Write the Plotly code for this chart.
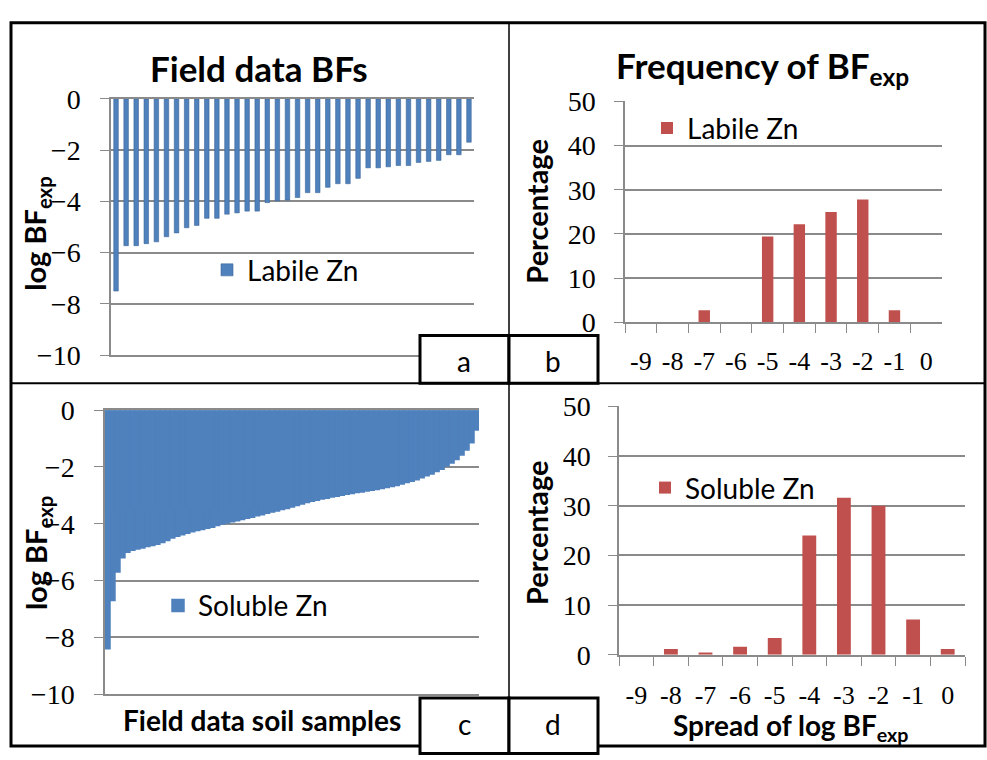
import plotly.graph_objects as go

# ---------------- data ----------------
# Panel a: field data BFs, labile Zn (36 samples, sorted)
labile_bf = [-7.5, -5.73, -5.73, -5.65, -5.58, -5.38, -5.23, -5.03, -4.94, -4.66,
             -4.66, -4.5, -4.45, -4.38, -4.38, -4.05, -3.98, -3.95, -3.85, -3.66,
             -3.66, -3.45, -3.31, -3.31, -3.1, -2.69, -2.69, -2.65, -2.6, -2.6,
             -2.48, -2.44, -2.4, -2.18, -2.18, -1.69]
labile_idx = list(range(1, len(labile_bf) + 1))

# Panel c: field data BFs, soluble Zn (sorted samples)
soluble_bf = [-8.4, -6.7, -5.7, -5.2, -5.0, -4.93, -4.89, -4.85, -4.8, -4.77,
              -4.72, -4.66, -4.59, -4.5, -4.44, -4.39, -4.33, -4.28, -4.24, -4.2,
              -4.16, -4.12, -4.06, -4.01, -3.97, -3.93, -3.89, -3.85, -3.81, -3.77,
              -3.72, -3.68, -3.63, -3.59, -3.55, -3.5, -3.46, -3.41, -3.36, -3.3,
              -3.25, -3.21, -3.17, -3.13, -3.1, -3.06, -3.03, -3.0, -2.96, -2.93,
              -2.9, -2.88, -2.85, -2.82, -2.79, -2.76, -2.72, -2.69, -2.65, -2.6,
              -2.55, -2.5, -2.45, -2.38, -2.31, -2.25, -2.16, -2.08, -1.97, -1.86,
              -1.74, -1.58, -1.4, -1.15, -0.7]
soluble_idx = list(range(1, len(soluble_bf) + 1))

# Panels b, d: frequency of log BFexp
bins = ["-9", "-8", "-7", "-6", "-5", "-4", "-3", "-2", "-1", "0"]
labile_pct = [0, 0, 2.78, 0, 19.44, 22.22, 25.0, 27.78, 2.78, 0]
soluble_pct = [0, 1.16, 0.45, 1.6, 3.4, 24.0, 31.6, 30.0, 7.1, 1.16]

bf_ticks = [0, -2, -4, -6, -8, -10]
pct_ticks = [0, 10, 20, 30, 40, 50]

# ---------------- style ----------------
W, H = 987, 760
BLUE = "#4F81BD"
RED = "#C0504D"
GRID = "#8a8a8a"
SERIF = "Liberation Serif"
SANS = "Lato"


def px(x):
    return x / W


def py(y):
    return 1 - y / H


ytickfont = dict(family=SERIF, size=28, color="black")
xtickfont = dict(family=SERIF, size=26, color="black")

fig = go.Figure()

fig.add_trace(go.Bar(x=labile_idx, y=labile_bf, name="Labile Zn", width=0.45,
                     marker=dict(color=BLUE, line=dict(color="#3d6797", width=0.6)),
                     xaxis="x", yaxis="y", legend="legend"))
fig.add_trace(go.Bar(x=bins, y=labile_pct, name="Labile Zn", width=0.36,
                     marker=dict(color=RED, line=dict(width=0)),
                     xaxis="x2", yaxis="y2", legend="legend2"))
fig.add_trace(go.Bar(x=soluble_idx, y=soluble_bf, name="Soluble Zn", width=1.0,
                     marker=dict(color=BLUE, line=dict(color=BLUE, width=1.5)),
                     xaxis="x3", yaxis="y3", legend="legend3"))
fig.add_trace(go.Bar(x=bins, y=soluble_pct, name="Soluble Zn", width=0.4,
                     marker=dict(color=RED, line=dict(width=0)),
                     xaxis="x4", yaxis="y4", legend="legend4"))

common_y = dict(showgrid=True, gridcolor=GRID, gridwidth=1.5, zeroline=False,
                showline=True, linecolor=GRID, linewidth=1.5, ticks="outside",
                ticklen=9, tickcolor=GRID, tickfont=ytickfont)

common_cat_x = dict(type="category", tickmode="linear", tick0=0, dtick=1,
                    showgrid=False, zeroline=False, showline=True, linecolor=GRID,
                    linewidth=1.5, ticks="outside", tickson="boundaries", ticklen=9,
                    tickcolor=GRID, tickfont=xtickfont)

fig.update_layout(
    width=W, height=H, margin=dict(l=0, r=0, t=0, b=0),
    paper_bgcolor="white", plot_bgcolor="white", barmode="overlay",
    showlegend=True,
    # panel a
    xaxis=dict(domain=[px(111), px(474)], anchor="y", range=[0.5, len(labile_bf) + 0.5],
               showticklabels=False, showgrid=False, zeroline=False, showline=True,
               linecolor=GRID, linewidth=1.5, mirror=True, ticks=""),
    yaxis=dict(domain=[py(354.5), py(87.5)], anchor="x", range=[-10, 0],
               tickvals=bf_ticks, ticklabelstandoff=14, **common_y),
    # panel b
    xaxis2=dict(domain=[px(625), px(942)], anchor="y2", ticklabelstandoff=15,
                **common_cat_x),
    yaxis2=dict(domain=[py(320.5), py(90)], anchor="x2", range=[0, 50],
                tickvals=pct_ticks, ticklabelstandoff=13, **common_y),
    # panel c
    xaxis3=dict(domain=[px(105), px(479)], anchor="y3", range=[0.5, len(soluble_bf) + 0.5],
                showticklabels=False, showgrid=False, zeroline=False, showline=True,
                linecolor=GRID, linewidth=1.5, mirror=True, ticks=""),
    yaxis3=dict(domain=[py(708), py(412)], anchor="x3", range=[-10, 0],
                tickvals=bf_ticks, ticklabelstandoff=14, **common_y),
    # panel d
    xaxis4=dict(domain=[px(619), px(965)], anchor="y4", ticklabelstandoff=16,
                **common_cat_x),
    yaxis4=dict(domain=[py(667), py(408)], anchor="x4", range=[0, 50],
                tickvals=pct_ticks, ticklabelstandoff=12, **common_y),
)

legfont = dict(family=SANS, size=28, color="black")
for name, x0, yc in [("legend", 207, 266), ("legend2", 647, 118),
                     ("legend3", 158, 616), ("legend4", 645, 493)]:
    fig.update_layout({name: dict(x=px(x0), y=py(yc), xanchor="left", yanchor="middle",
                                  font=legfont, bgcolor="rgba(0,0,0,0)",
                                  itemwidth=30, tracegroupgap=0)})

# ---------------- annotations (titles, axis labels, panel letters) ----------------
ann = []
title_font = dict(family=SANS, size=35, color="black", weight="bold")
lab_font = dict(family=SANS, size=28, color="black", weight="bold")
rot_font = dict(family=SANS, size=29, color="black", weight="bold")
ann.append(dict(text="Field data BFs", x=px(259), y=py(55), font=title_font))
ann.append(dict(text="Frequency of BF<sub>exp</sub>", x=px(762), y=py(55), font=title_font))
ann.append(dict(text="log BF<sub>exp</sub>", x=px(37), y=py(228), textangle=-90, font=rot_font))
ann.append(dict(text="log BF<sub>exp</sub>", x=px(37), y=py(561), textangle=-90, font=rot_font))
ann.append(dict(text="Percentage", x=px(537), y=py(205), textangle=-90, font=rot_font))
ann.append(dict(text="Percentage", x=px(537), y=py(540), textangle=-90, font=rot_font))
ann.append(dict(text="Field data soil samples", x=px(262), y=py(735), font=lab_font))
ann.append(dict(text="Spread of log BF<sub>exp</sub>", x=px(790), y=py(742), font=lab_font))
letter_font = dict(family=SANS, size=28, color="black")
for t, x, y in [("a", 464, 361), ("b", 553, 361), ("c", 464, 739), ("d", 553, 739)]:
    ann.append(dict(text=t, x=px(x), y=py(y), font=letter_font))
for a in ann:
    a.update(xref="paper", yref="paper", showarrow=False, xanchor="center", yanchor="middle")
fig.update_layout(annotations=ann)

# ---------------- frame, dividers, letter boxes ----------------
shapes = []
line_k = dict(color="black", width=3)
shapes.append(dict(type="rect", x0=px(11), x1=px(985), y0=py(762), y1=py(8), line=line_k,
                   fillcolor="rgba(0,0,0,0)"))
shapes.append(dict(type="line", x0=px(509), x1=px(509), y0=py(762), y1=py(8),
                   line=dict(color="black", width=1.5)))
shapes.append(dict(type="line", x0=px(11), x1=px(985), y0=py(384), y1=py(384),
                   line=dict(color="black", width=2)))
for x0, x1, y0, y1 in [(420, 509, 334, 384), (509, 598, 334, 384),
                       (420, 509, 712, 770), (509, 598, 712, 770)]:
    shapes.append(dict(type="rect", x0=px(x0), x1=px(x1), y0=py(y1), y1=py(y0),
                       line=line_k, fillcolor="white", layer="above"))
for s in shapes:
    s.update(xref="paper", yref="paper")
fig.update_layout(shapes=shapes)

fig.write_html("out.html")
